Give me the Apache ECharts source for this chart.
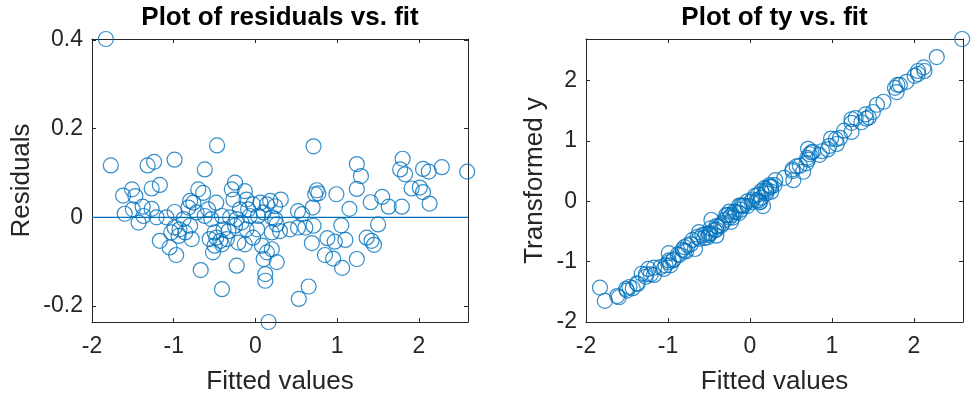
<!DOCTYPE html>
<html>
<head>
<meta charset="utf-8">
<title>Residuals</title>
<script src="https://cdn.jsdelivr.net/npm/echarts@6/dist/echarts.min.js"></script>
<style>
  html, body { margin: 0; padding: 0; background: #fff; }
  #main { width: 977px; height: 400px; }
</style>
</head>
<body>
<div id="main"></div>
<script type="text/javascript">
var fittedValues = [
  -1.83, -1.77, -1.32, -1.24, -0.99, -0.47, -0.62, -1.62, -1.51, -1.47,
  -1.27, -1.17, -1.60, -1.50, -1.38, -1.43, -1.37, -1.27, -1.21, -1.09,
  -0.99, -1.17, -1.05, -0.97, -1.03, -0.93, -0.86, -0.78, -0.88, -0.82,
  -0.76, -0.70, -0.64, -0.72, -0.62, -0.54, -0.48, -0.25, -0.29, -0.13,
  -0.27, -0.11, -0.19, -0.03, 0.06, 0.18, -0.17, -0.07, 0.03, 0.10,
  0.20, -0.25, -0.33, -0.50, -0.56, -0.43, -0.50, -0.41, -0.35, -0.52,
  -0.21, -0.13, -0.23, -0.03, 0.08, 0.14, 0.20, 0.10, 0.12, 0.12,
  -0.67, -0.41, 0.02, 0.20, -0.99, -0.80, -0.58, -0.41, -0.31, -0.09,
  0.14, 0.24, 0.26, -0.11, -0.39, -0.80, -0.94, -0.48, -0.23, 0.16,
  0.71, 1.24, 1.29, 1.24, 1.80, 1.77, 1.83, 2.05, 2.12, 2.28,
  2.59, 1.91, 2.01, 2.05, 2.13, 1.79, 1.63, 1.55, 1.41, 1.15,
  0.99, 0.75, 0.77, 0.73, 0.70, 0.31, 0.52, 0.57, 0.24, 0.30,
  0.42, 0.52, 0.61, 0.71, 0.69, 0.88, 0.97, 1.10, 1.05, 0.85,
  0.95, 1.06, 1.24, 1.36, 1.42, 1.45, 1.50, 0.65, 0.53, 0.26
];
var residuals = [
  0.402, 0.117, 0.117, 0.125, 0.130, 0.162, 0.108, 0.049, 0.063, 0.048,
  0.065, 0.073, 0.008, 0.018, 0.024, -0.012, 0.003, 0.019, 0.000, 0.000,
  0.012, -0.053, -0.068, -0.085, -0.034, -0.027, -0.034, -0.049, -0.004, 0.022,
  0.033, 0.063, 0.055, 0.011, 0.003, -0.004, 0.033, 0.078, 0.063, 0.059,
  0.040, 0.040, 0.018, 0.029, 0.033, 0.037, -0.012, 0.003, 0.003, 0.011,
  0.000, -0.019, -0.031, -0.034, -0.049, -0.053, -0.064, -0.061, -0.049, -0.079,
  -0.057, -0.061, -0.109, -0.046, -0.064, -0.079, -0.072, -0.094, -0.128, -0.143,
  -0.119, -0.162, -0.027, -0.034, -0.023, 0.037, 0.018, 0.003, 0.000, 0.018,
  0.029, 0.025, -0.016, -0.027, -0.027, -0.019, -0.042, -0.046, -0.004, -0.236,
  0.160, 0.120, 0.093, 0.064, 0.132, 0.108, 0.097, 0.109, 0.103, 0.113,
  0.103, 0.065, 0.067, 0.057, 0.031, 0.024, 0.024, 0.046, 0.034, 0.019,
  0.052, 0.061, 0.054, 0.052, 0.022, 0.040, 0.014, 0.007, -0.004, -0.031,
  -0.027, -0.023, -0.023, -0.019, -0.058, -0.047, -0.055, -0.051, -0.018, -0.085,
  -0.093, -0.114, -0.094, -0.046, -0.053, -0.062, -0.016, -0.156, -0.184, -0.101
];
var transformedY = [
  -1.43, -1.65, -1.20, -1.12, -0.86, -0.31, -0.51, -1.57, -1.45, -1.42,
  -1.21, -1.10, -1.59, -1.48, -1.36, -1.44, -1.37, -1.25, -1.21, -1.09,
  -0.98, -1.22, -1.12, -1.06, -1.06, -0.96, -0.89, -0.83, -0.88, -0.80,
  -0.73, -0.64, -0.59, -0.71, -0.62, -0.54, -0.45, -0.17, -0.23, -0.07,
  -0.23, -0.07, -0.17, 0.00, 0.09, 0.22, -0.18, -0.07, 0.03, 0.11,
  0.20, -0.27, -0.36, -0.53, -0.61, -0.48, -0.56, -0.47, -0.40, -0.60,
  -0.27, -0.19, -0.34, -0.08, 0.02, 0.06, 0.13, 0.01, -0.01, -0.02,
  -0.79, -0.57, -0.01, 0.17, -1.01, -0.76, -0.56, -0.41, -0.31, -0.07,
  0.17, 0.27, 0.24, -0.14, -0.42, -0.82, -0.98, -0.53, -0.23, -0.08,
  0.87, 1.36, 1.38, 1.30, 1.93, 1.88, 1.93, 2.16, 2.22, 2.39,
  2.69, 1.98, 2.08, 2.11, 2.16, 1.81, 1.65, 1.60, 1.44, 1.17,
  1.04, 0.81, 0.82, 0.78, 0.72, 0.35, 0.53, 0.58, 0.24, 0.27,
  0.39, 0.50, 0.59, 0.69, 0.63, 0.83, 0.92, 1.05, 1.03, 0.77,
  0.86, 0.95, 1.15, 1.31, 1.37, 1.39, 1.48, 0.49, 0.35, 0.16
];

// axis limits and tick labels
var xLimits = [-2, 2.6];
var xTicks = [-2, -1, 0, 1, 2];
var residLimits = [-0.236, 0.402];
var residTicks = [-0.2, 0, 0.2, 0.4];
var tyLimits = [-2, 2.69];
var tyTicks = [-2, -1, 0, 1, 2];

var axisColor = '#262626';
var blue = '#0072BD';
var font = 'Liberation Sans, Arial, Helvetica, sans-serif';

var residData = fittedValues.map(function(f, i) { return [f, residuals[i]]; });
var tyData = fittedValues.map(function(f, i) { return [f, transformedY[i]]; });

function mainX(gridIndex, ticks) {
  return {
    type: 'value', gridIndex: gridIndex, position: 'bottom',
    min: xLimits[0], max: xLimits[1],
    name: 'Fitted values', nameLocation: 'middle', nameGap: 47,
    nameTextStyle: { color: axisColor, fontSize: 26, fontFamily: font },
    axisLine: { onZero: false, lineStyle: { color: axisColor, width: 1 } },
    axisTick: { inside: true, length: 4, customValues: ticks, lineStyle: { color: axisColor } },
    axisLabel: { customValues: ticks, color: axisColor, fontSize: 23, fontFamily: font, margin: 13 },
    splitLine: { show: false }
  };
}
function topX(gridIndex, ticks, title) {
  return {
    type: 'value', gridIndex: gridIndex, position: 'top',
    min: xLimits[0], max: xLimits[1],
    name: title, nameLocation: 'middle', nameGap: 8,
    nameTextStyle: { color: '#000', fontSize: 26, fontWeight: 'bold', fontFamily: font },
    axisLine: { onZero: false, lineStyle: { color: axisColor, width: 1 } },
    axisTick: { inside: true, length: 4, customValues: ticks, lineStyle: { color: axisColor } },
    axisLabel: { show: false },
    splitLine: { show: false }
  };
}
function leftY(gridIndex, lim, ticks, name, gap) {
  return {
    type: 'value', gridIndex: gridIndex, position: 'left',
    min: lim[0], max: lim[1],
    name: name, nameLocation: 'middle', nameGap: gap,
    nameTextStyle: { color: axisColor, fontSize: 26, fontFamily: font },
    axisLine: { show: true, onZero: false, lineStyle: { color: axisColor, width: 1 } },
    axisTick: { show: true, inside: true, length: 4, customValues: ticks, lineStyle: { color: axisColor } },
    axisLabel: { customValues: ticks, color: axisColor, fontSize: 23, fontFamily: font, margin: 9 },
    splitLine: { show: false }
  };
}
function rightY(gridIndex, lim, ticks) {
  return {
    type: 'value', gridIndex: gridIndex, position: 'right',
    min: lim[0], max: lim[1],
    axisLine: { show: true, onZero: false, lineStyle: { color: axisColor, width: 1 } },
    axisTick: { show: true, inside: true, length: 4, customValues: ticks, lineStyle: { color: axisColor } },
    axisLabel: { show: false },
    splitLine: { show: false }
  };
}

var myChart = echarts.init(document.getElementById('main'));
var option = {
  animation: false,
  backgroundColor: '#fff',
  grid: [
    { left: 92, top: 39, width: 376, height: 284 },
    { left: 586, top: 38, width: 377, height: 285 }
  ],
  xAxis: [
    mainX(0, xTicks),
    topX(0, xTicks, 'Plot of residuals vs. fit'),
    mainX(1, xTicks),
    topX(1, xTicks, 'Plot of ty vs. fit')
  ],
  yAxis: [
    leftY(0, residLimits, residTicks, 'Residuals', 57),
    rightY(0, residLimits, residTicks),
    leftY(1, tyLimits, tyTicks, 'Transformed y', 38),
    rightY(1, tyLimits, tyTicks)
  ],
  series: [
    {
      // zero reference line across the residual panel
      type: 'line', xAxisIndex: 0, yAxisIndex: 0,
      data: [[xLimits[0], 0], [xLimits[1], 0]],
      symbol: 'none', lineStyle: { color: blue, width: 1.2 }, silent: true
    },
    {
      type: 'scatter', xAxisIndex: 0, yAxisIndex: 0, clip: false,
      data: residData, symbol: 'circle', symbolSize: 15,
      itemStyle: { color: 'rgba(0,0,0,0)', borderColor: blue, borderWidth: 1.2 }
    },
    {
      type: 'scatter', xAxisIndex: 2, yAxisIndex: 2, clip: false,
      data: tyData, symbol: 'circle', symbolSize: 15,
      itemStyle: { color: 'rgba(0,0,0,0)', borderColor: blue, borderWidth: 1.2 }
    }
  ]
};
myChart.setOption(option);
</script>
</body>
</html>
